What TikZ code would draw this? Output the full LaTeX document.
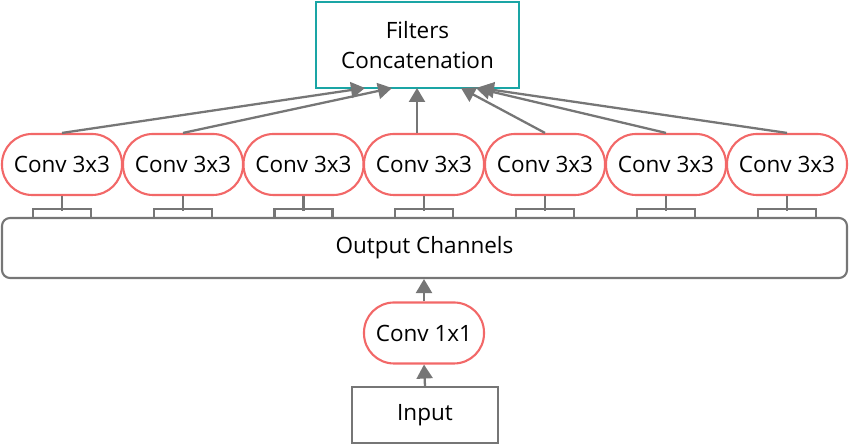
\documentclass[tikz,border=0pt]{standalone}
\usepackage{fontspec}
\setmainfont{Open Sans}
\usepackage{tikz}
\usetikzlibrary{arrows.meta, calc}
\definecolor{convred}{HTML}{F26868}
\definecolor{filterteal}{HTML}{1AA5A5}
\definecolor{linegray}{HTML}{767676}
\tikzset{>={Triangle[length=0.28cm, width=0.32cm]}}
\tikzset{
  conv/.style={draw=convred, line width=1.2pt, rounded corners=0.6cm,
    minimum width=2.4cm, minimum height=1.22cm, inner sep=0pt},
  plainbox/.style={draw=linegray, line width=1.2pt, inner sep=0pt},
  link/.style={draw=linegray, line width=1.3pt},
}

\begin{document}
\begin{tikzpicture}[font=\fontsize{12.8pt}{17pt}\selectfont]
      \useasboundingbox (0, 0) rectangle (17, 8.9);
      % top box
      \node[draw=filterteal, line width=1.2pt, minimum width=4.06cm, minimum height=1.72cm, align=center, inner sep=0pt] (fc) at (8.35, 8.0) {Filters\\Concatenation};
      % row of 3x3 convolutions
      \node[conv] (c1) at (1.24, 5.61) {Conv 3x3};
      \node[conv] (c2) at (3.66, 5.61) {Conv 3x3};
      \node[conv] (c3) at (6.07, 5.61) {Conv 3x3};
      \node[conv] (c4) at (8.48, 5.61) {Conv 3x3};
      \node[conv] (c5) at (10.90, 5.61) {Conv 3x3};
      \node[conv] (c6) at (13.32, 5.61) {Conv 3x3};
      \node[conv] (c7) at (15.74, 5.61) {Conv 3x3};
      \node[plainbox, rounded corners=0.16cm, minimum width=16.9cm, minimum height=1.2cm] (out) at (8.49, 3.94) {Output Channels};
      \node[conv] (c0) at (8.48, 2.24) {Conv 1x1};
      \node[plainbox, minimum width=2.92cm, minimum height=1.12cm] (in) at (8.5, 0.6) {Input};
      % arrow ends on the top box
      \coordinate (t1) at (7.30, 7.14);
      \coordinate (t2) at (7.84, 7.14);
      \coordinate (t4) at (8.34, 7.14);
      \coordinate (t5) at (9.22, 7.14);
      \coordinate (t6) at (9.52, 7.14);
      \coordinate (t7) at (9.60, 7.14);
      \draw[link, ->] (c1.north) to (t1);
      \draw[link, ->] (c2.north) to (t2);
      \draw[link, ->] (t4 |- c4.north) to (t4);
      \draw[link, ->] (c5.north) to (t5);
      \draw[link, ->] (c6.north) to (t6);
      \draw[link, ->] (c7.north) to (t7);
      % brackets down to the channels
      \draw[link] (c1.south) -- ++(0, -0.3);
      \draw[link] ([xshift=-0.58cm]c1.south |- out.north) -- ++(0, 0.16) -- ++(1.16, 0) -- ++(0, -0.16);
      \draw[link] (c2.south) -- ++(0, -0.3);
      \draw[link] ([xshift=-0.58cm]c2.south |- out.north) -- ++(0, 0.16) -- ++(1.16, 0) -- ++(0, -0.16);
      \draw[link] (c3.south) -- ++(0, -0.3);
      \draw[link] ([xshift=-0.58cm]c3.south |- out.north) -- ++(0, 0.16) -- ++(1.16, 0) -- ++(0, -0.16);
      \draw[link] (c4.south) -- ++(0, -0.3);
      \draw[link] ([xshift=-0.58cm]c4.south |- out.north) -- ++(0, 0.16) -- ++(1.16, 0) -- ++(0, -0.16);
      \draw[link] (c5.south) -- ++(0, -0.3);
      \draw[link] ([xshift=-0.58cm]c5.south |- out.north) -- ++(0, 0.16) -- ++(1.16, 0) -- ++(0, -0.16);
      \draw[link] (c6.south) -- ++(0, -0.3);
      \draw[link] ([xshift=-0.58cm]c6.south |- out.north) -- ++(0, 0.16) -- ++(1.16, 0) -- ++(0, -0.16);
      \draw[link] (c7.south) -- ++(0, -0.3);
      \draw[link] ([xshift=-0.58cm]c7.south |- out.north) -- ++(0, 0.16) -- ++(1.16, 0) -- ++(0, -0.16);
      % input path
      \draw[link, ->] (in.north) to (c0.south);
      \draw[link, ->] (c0.north) to (c0.north |- out.south);
    \end{tikzpicture}
\end{document}
